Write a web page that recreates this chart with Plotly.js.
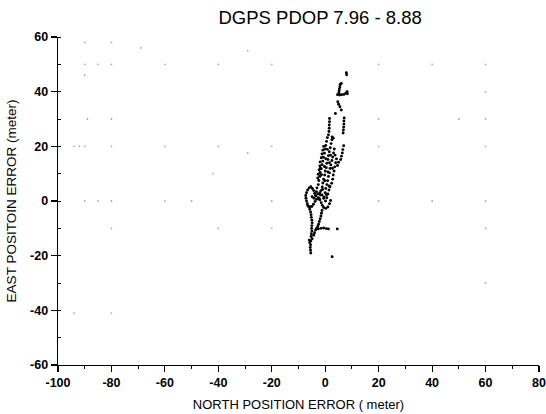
<!DOCTYPE html>
<html>
<head>
<meta charset="utf-8">
<script src="https://cdn.plot.ly/plotly-3.0.1.min.js"></script>
<style>html,body{margin:0;padding:0;background:#fff;}#chart{width:546px;height:414px;}</style>
</head>
<body>
<div id="chart"></div>
<script>
// Position error track (north, east) in meters
const northErr = [
  // lower left tail
  -5.4,-5.5,-5.6,-5.5,-5.8,-6.0,-5.4,-4.9,-5.3,-5.2,-5.0,-5.1,-5.0,-4.9,-5.0,-5.2,-5.3,-5.5,-5.8,-6.2,-6.7,-7.0,-7.2,-7.3,-7.0,-6.6,-6.0,-5.4,-4.8,-4.3,-4.0,
  // middle lower strand
  -1.2,-1.4,-1.6,-1.9,-2.2,-2.5,-2.8,-3.2,-3.6,-2.6,-1.6,-0.6,0.4,-4.3,-4.0,
  1.2,4.5,2.6,
  // zigzags near origin
  -6.5,-5.8,-5.0,-4.4,-3.8,-3.2,-2.6,-2.0,-1.5,-1.1,-0.6,0.2,1.0,1.6,2.0,
  -4.9,-4.2,-3.5,-2.8,-2.0,-1.2,-0.6,0.1,0.6,1.0,1.4,1.8,
  // dense strands
  -3.6,-3.3,-3.1,-2.6,-2.4,-2.0,-1.9,-1.5,-1.2,-0.9,-0.7,-0.3,-0.1,0.2,0.5,
  -2.2,-1.8,-1.6,-1.1,-0.9,-0.6,-0.2,0.0,0.4,0.6,1.0,1.2,1.5,1.9,2.2,2.5,
  -0.4,0.0,0.2,0.6,0.9,1.2,1.6,1.8,2.1,2.5,2.8,3.1,3.4,
  -2.8,-2.6,-2.3,-2.0,-1.9,-1.5,-1.2,-0.9,-0.6,
  2.4,2.8,3.0,3.3,3.6,3.9,4.2,
  -1.0,0.5,1.4,-0.3,1.0,2.0,0.2,-1.4,2.7,3.7,-0.2,1.6,0.8,-1.8,
  // right side
  5.8,6.1,6.4,6.6,6.9,4.6,5.0,
  // upper streaks
  0.8,1.2,1.4,1.5,1.5,1.6,1.6,2.6,3.0,
  6.7,6.8,6.9,7.0,7.0,7.1,
  6.0,5.5,4.7,5.0,3.8,
  // loop near 40
  5.1,5.2,5.3,5.5,5.6,6.0,4.6,5.4,6.2,7.0,7.7,8.2,8.3,
  7.9,8.0
];
const eastErr = [
  -19.0,-18.0,-17.0,-16.0,-15.2,-14.3,-14.6,-13.8,-13.0,-12.0,-11.0,-10.0,-9.0,-8.0,-7.0,-6.0,-5.0,-4.0,-3.0,-2.0,-1.0,0.0,1.0,2.0,3.0,4.0,4.8,5.2,4.6,3.8,2.8,
  -3.5,-4.5,-5.5,-6.5,-7.5,-8.5,-9.3,-10.0,-10.6,-10.2,-10.0,-9.9,-10.1,-12.5,-11.6,
  -10.2,-10.2,-20.4,
  -1.8,-2.1,-2.0,-1.2,-0.2,0.6,1.2,0.4,-0.6,-1.6,-2.4,-2.7,-2.2,-1.0,0.2,
  1.6,1.0,1.8,2.6,3.0,2.2,1.0,0.0,1.2,2.6,4.0,5.2,
  2.0,3.4,4.8,6.0,7.5,9.0,10.4,11.8,13.3,14.6,16.0,17.5,19.0,20.3,21.8,
  0.8,2.2,3.8,5.1,6.6,8.0,9.5,11.0,12.2,13.8,15.2,16.6,18.0,19.5,21.0,22.4,
  1.5,3.0,4.6,6.0,7.4,9.0,10.3,11.9,13.2,14.8,16.1,17.6,19.0,
  8.4,9.8,11.4,12.8,14.3,15.8,17.2,18.6,20.0,
  6.5,8.0,9.5,11.0,12.5,14.0,15.4,
  4.2,2.3,5.5,12.6,10.6,16.8,15.5,9.6,12.0,16.8,7.4,14.0,18.9,12.0,
  15.2,16.4,17.6,18.8,20.2,13.0,14.2,
  23.2,24.2,25.4,26.6,27.8,29.0,30.2,23.4,23.0,
  24.9,26.0,27.1,28.2,29.3,30.4,
  33.3,34.5,36.3,35.4,32.0,
  39.4,40.2,41.0,41.8,42.6,43.0,38.9,38.8,38.9,39.0,39.4,40.0,39.2,
  46.9,46.2
];
// faint printed grid dots
const gridDotX = [-90,-80,-69,-29,-90,-85,-80,-60,-40,-20,20,40,60,-90,60,-89,-80,20,50,60,-94,-92,-90,-80,-60,-40,-20,20,60,-29,-42,-90,-85,-80,-60,-50,-20,20,40,60,-80,-40,-20,60,60,-94,-80];
const gridDotY = [58,58,56,55,50,50,50,50,50,50,50,50,50,46,40,30,30,30,30,30,20,20,20,20,20,20,20,20,20,17.6,10,0,0,0,0,0,0,0,0,0,-10,-10,-10,-10,-30,-41,-41];

const xTickVals = [-100,-80,-60,-40,-20,0,20,40,60,80];
const yTickVals = [-60,-40,-20,0,20,40,60];

const FONT = 'Liberation Sans, Arial, sans-serif';

const traces = [
  {x: gridDotX, y: gridDotY, mode: 'markers', type: 'scatter',
   marker: {color: '#a8a8a8', size: 1.8}, hoverinfo: 'skip'},
  {x: northErr, y: eastErr, mode: 'markers', type: 'scatter',
   marker: {color: '#000', size: 2.9}}
];

const axisCommon = {
  showgrid: false, zeroline: false, showline: true, linecolor: '#000', linewidth: 1.4,
  ticks: 'outside', ticklen: 6, tickwidth: 1.2, tickcolor: '#000'
};

const layout = {
  width: 546, height: 414,
  margin: {l: 58, r: 7, t: 37, b: 49},
  paper_bgcolor: '#fff', plot_bgcolor: '#fff',
  showlegend: false,
  font: {family: FONT, color: '#000'},
  title: {text: 'DGPS PDOP 7.96 - 8.88', font: {family: FONT, size: 18.5, color: '#000'},
          x: 0.545, xref: 'paper', xanchor: 'center', y: 0.958, yref: 'container', yanchor: 'middle'},
  xaxis: Object.assign({}, axisCommon, {
    range: [-100, 80], tickvals: xTickVals, ticktext: xTickVals.map(String),
    minor: {dtick: 10, tick0: 0, ticks: 'outside', ticklen: 3, tickwidth: 1, tickcolor: '#000'},
    tickfont: {family: FONT, size: 12.5, color: '#000', weight: 'bold'},
    title: {text: 'NORTH POSITION ERROR ( meter)', font: {family: FONT, size: 13, color: '#000'}, standoff: 10}
  }),
  yaxis: Object.assign({}, axisCommon, {
    range: [-60, 60], tickvals: yTickVals, ticktext: yTickVals.map(String),
    minor: {dtick: 10, tick0: 0, ticks: 'inside', ticklen: 3, tickwidth: 1, tickcolor: '#000'},
    tickfont: {family: FONT, size: 12.5, color: '#000', weight: 'bold'},
    title: {text: 'EAST POSITOIN ERROR (meter)', font: {family: FONT, size: 13.5, color: '#000'}, standoff: 10}
  })
};

Plotly.newPlot('chart', traces, layout, {displayModeBar: false, staticPlot: true});
</script>
</body>
</html>
